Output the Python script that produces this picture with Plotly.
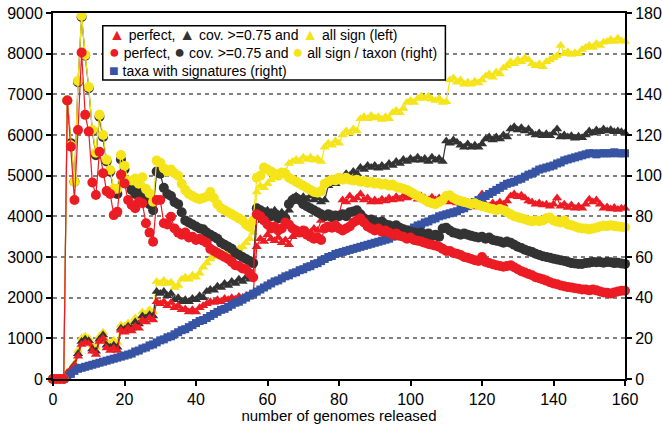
import plotly.graph_objects as go

# x: number of genomes released
genomes = list(range(0, 161))

# signature counts (left axis)
perfect_sign = [
    0, 0, 0, 0, 150, 220, 330, 560, 850, 900,
    870, 680, 600, 920, 1000, 760, 700, 760, 700, 1200,
    1150, 1250, 1180, 1300, 1250, 1450, 1400, 1500, 1450, 1900,
    1850, 1900, 1800, 1880, 1750, 1800, 1700, 1720, 1650, 1700,
    1650, 1750, 1800, 1850, 1900, 1880, 1950, 1900, 1980, 1950,
    2000, 1960, 2030, 2000, 2050, 2020, 2100, 3250, 3450, 3380,
    3550, 3450, 3400, 3480, 3350, 3420, 3300, 3500, 3550, 3600,
    3550, 3650, 3600, 3700, 3650, 3900, 4000, 3950, 4050, 3980,
    4050, 4400, 4350, 4500, 4400, 4450, 4550, 4400, 4450, 4350,
    4400, 4350, 4420, 4380, 4450, 4400, 4480, 4420, 4500, 4450,
    4520, 4480, 4420, 4500, 4450, 4400, 4470, 4400, 4450, 4380,
    4420, 4350, 4400, 4330, 4380, 4300, 4250, 4300, 4230, 4250,
    4550, 4300, 4250, 4330, 4280, 4350, 4300, 4380, 4500, 4550,
    4480, 4520, 4450, 4380, 4350, 4300, 4330, 4280, 4300, 4250,
    4300, 4450, 4250, 4300, 4220, 4280, 4200, 4250, 4200, 4300,
    4420, 4350, 4400, 4300, 4200, 4230, 4180, 4220, 4170, 4200, 4200,
]
cov75_sign = [
    0, 0, 0, 0, 150, 230, 350, 620, 920, 980,
    940, 740, 680, 980, 1080, 830, 780, 830, 780, 1250,
    1220, 1300, 1250, 1400, 1350, 1550, 1500, 1580, 1550, 2150,
    2100, 2150, 2050, 2100, 1950, 2000, 1900, 1950, 1900, 1980,
    1950, 2050, 2000, 2150, 2200, 2180, 2280, 2250, 2350, 2300,
    2400, 2350, 2450, 2400, 2500, 2450, 2550, 3900, 4100, 4050,
    4150, 4100, 4150, 4050, 4100, 4000, 4150, 4450, 4500, 4400,
    4480, 4420, 4500, 4400, 4450, 4350, 4400, 4750, 4850, 4800,
    4950, 4900, 5050, 5000, 5100, 5050, 5200, 5150, 5250, 5200,
    5250, 5180, 5250, 5200, 5300, 5250, 5350, 5300, 5400, 5350,
    5420, 5380, 5450, 5380, 5420, 5350, 5450, 5380, 5420, 5350,
    5850, 5800, 5880, 5820, 5750, 5700, 5780, 5700, 5750, 5700,
    5780, 5900, 5950, 5880, 5950, 5900, 6000, 5950, 6150, 6200,
    6120, 6180, 6100, 6150, 6050, 6000, 6050, 5980, 6030, 5980,
    6050, 6150, 5950, 6000, 5950, 5980, 5920, 5970, 5930, 6000,
    6100, 6050, 6120, 6080, 6150, 6100, 6130, 6080, 6100, 6080, 6050,
]
all_sign = [
    0, 0, 0, 0, 160, 250, 380, 700, 1000, 1050,
    1000, 830, 780, 1050, 1150, 920, 880, 950, 900, 1320,
    1300, 1380, 1350, 1500, 1450, 1650, 1600, 1700, 1650, 2400,
    2350, 2420, 2350, 2380, 2250, 2300, 2450, 2500, 2450, 2550,
    2500, 2600, 2750, 2850, 2950, 3050, 3000, 3100, 3050, 3150,
    3100, 3150, 3200, 3250, 3350, 3450, 3600, 4600, 4750, 4700,
    4800, 4900, 4950, 5050, 5000, 5100, 5300, 5350, 5400, 5350,
    5450, 5400, 5450, 5380, 5420, 5350, 5700, 5800, 5750, 5850,
    5800, 6000, 6100, 6050, 6150, 6100, 6400, 6450, 6400, 6480,
    6420, 6450, 6380, 6450, 6400, 6550, 6600, 6550, 6650, 6800,
    6850, 6800, 6900, 6950, 6900, 6950, 6880, 6850, 6900, 6800,
    6820, 7350, 7400, 7300, 7350, 7250, 7300, 7250, 7320, 7280,
    7350, 7450, 7500, 7420, 7550, 7500, 7650, 7700, 7800, 7750,
    7850, 7800, 7900, 7850, 7750, 7700, 7750, 7680, 7800, 7850,
    7900, 7950, 8200, 8000, 8050, 7980, 8020, 8000, 8100, 8150,
    8200, 8150, 8250, 8200, 8280, 8300, 8350, 8300, 8380, 8320, 8300,
]

# signatures per taxon and taxa count (right axis)
perfect_per_taxon = [
    0, 0, 0, 0, 137, 114.2, 88, 122.5, 160.6, 129.9,
    121.7, 96.6, 90.5, 111.8, 101.2, 92.4, 91, 80.6, 82.2, 100.4,
    96.2, 88, 85.6, 84, 87.2, 86.4, 76.6, 72, 67.5, 88,
    88, 76.6, 76, 79.8, 74, 72, 71, 72, 69.6, 70,
    68.4, 69, 68, 67, 64, 63, 62, 61, 60, 59,
    57.6, 56, 55.6, 54.4, 54, 52, 50, 81, 80, 78,
    76, 74, 75, 73, 74, 77, 76, 74, 73, 72,
    73, 71, 70, 69, 69.6, 68.4, 74, 75, 74.4, 75.6,
    74, 73, 74, 75, 77, 78, 79, 77, 75, 74,
    73, 74, 72.4, 73, 72, 71, 71.6, 70.4, 70, 69,
    69.6, 68.4, 68, 67.6, 67, 66.4, 66, 65.6, 65, 64,
    63, 63, 62, 61.6, 61, 60, 59.6, 59, 58.4, 58,
    60, 57.6, 57, 56.4, 56, 55.6, 55.2, 55.6, 56, 55,
    54, 53, 52.4, 51.6, 51, 50, 49.6, 49, 48.4, 47.6,
    47, 46.6, 46, 45.6, 45.2, 45, 44.6, 44.4, 44, 44,
    43.6, 44, 43.6, 43, 42.6, 42.4, 42, 42.6, 43, 43.4, 43.4,
]
cov75_per_taxon = [
    0, 0, 0, 0, 137, 116, 97, 146, 178, 159,
    143, 122, 110, 129, 119, 107, 102, 92, 91, 108,
    103, 96, 93, 91, 93, 91, 89, 86, 83, 102,
    101, 94, 91, 90, 87, 86, 82, 78, 77, 76,
    75, 74, 73.6, 72, 71, 70, 69, 67, 66, 65,
    64, 62, 61, 60, 59, 58, 57, 84, 83, 82,
    81, 80, 81, 79, 80, 79, 86, 88, 89, 88,
    86, 85, 84, 83, 82, 81, 80, 81, 79.6, 80.4,
    80, 81, 80, 82, 82.4, 83, 81, 79, 78, 78.4,
    77.6, 77, 77.4, 76, 75.6, 75, 75.6, 74.4, 73.6, 73,
    72.4, 72, 71.6, 72, 71, 71.6, 70.4, 71, 70, 74,
    74.4, 73, 72, 71.6, 71, 71.6, 71, 70.4, 70, 69.6,
    70, 69, 69.6, 68.4, 68, 67.6, 67, 67.6, 67, 66,
    65, 64.4, 63.6, 63, 62.4, 61.6, 61, 60.4, 60, 59.6,
    59.2, 58.8, 58.4, 58, 57.6, 57, 56.8, 56.6, 56.6, 57,
    57.2, 57.6, 57.4, 57.6, 57.2, 57.6, 57.4, 57, 57.2, 56.8, 56.6,
]
all_per_taxon = [
    0, 0, 0, 0, 137, 115, 97, 146.6, 178.7, 159.4,
    143.6, 122.5, 111.3, 129.9, 120, 107.8, 102.8, 93.4, 93.6, 110.2,
    104.8, 97.6, 97.6, 98.6, 96, 99.2, 93.4, 91.2, 87.2, 107.4,
    106.4, 103.6, 102, 103, 101.2, 100, 96, 93, 91, 90,
    89, 88.4, 89, 89.6, 92, 89, 86, 84, 83, 82,
    81, 80, 79, 78, 76, 74.8, 78, 99, 100, 104,
    103, 102, 101, 100, 101.6, 101, 99, 98, 97, 96,
    95, 94, 93, 92, 91.6, 92.4, 96, 97, 98, 97.6,
    99, 98, 99, 98, 97.6, 98, 97, 97.4, 96.4, 97,
    96, 96.4, 95.6, 96, 95, 95.6, 94.4, 94, 93.6, 93,
    92, 91, 90, 89, 88, 87, 86.4, 86, 87, 88,
    90, 90.4, 89, 88, 87.6, 87, 86.6, 86, 86.4, 85.6,
    85, 84.6, 84, 83.6, 83, 83.6, 83, 82, 81, 80,
    79.6, 79, 78.6, 78, 77.6, 78, 77.6, 78, 79, 79.4,
    78, 77.4, 77, 78, 76, 75.6, 75, 74.4, 74, 74,
    73.6, 74, 74.4, 75, 75.4, 75.2, 75.6, 75.2, 75, 74.8, 74.6,
]
taxa_with_sign = [
    0, 0, 0, 0, 1, 2.5, 4, 5, 5.5, 6,
    6.5, 7, 7.5, 8, 8.5, 9, 9.5, 10, 10.5, 11,
    11.5, 12, 12.5, 13.5, 14, 15, 15.5, 16.5, 17, 18,
    19, 19.5, 20.5, 21, 22, 23, 24, 24.5, 25.5, 26.5,
    27.5, 28.5, 29, 30, 31, 32, 33, 34, 34.5, 35.5,
    36.5, 37.5, 38, 39, 40, 41, 42, 43, 44, 45,
    46, 47, 48, 48.5, 49.5, 50.5, 51, 52, 52.5, 53.5,
    54, 55, 55.5, 56.5, 57, 58, 59, 60, 60.5, 61.5,
    62, 62.5, 63, 63.5, 64, 64.5, 65, 65.5, 66, 66.5,
    67, 67.5, 68, 68.5, 69, 70, 70.5, 71, 72, 72.5,
    73.5, 74.5, 75.5, 76, 77, 77.5, 78.5, 79, 80, 80.5,
    81, 81.5, 82, 82.5, 83.5, 84, 85, 86, 87, 88,
    89, 90, 91, 92, 93, 94, 95, 96, 96.5, 97,
    98, 98.5, 99.5, 100.5, 101, 102, 103, 103.5, 104, 104.5,
    105, 106, 106.5, 107.5, 108, 108.5, 109, 109.5, 110, 110.5,
    111, 111, 110.5, 111, 111, 111, 111, 111.5, 111, 111, 111,
]

left_ticks = list(range(0, 9001, 1000))
right_ticks = list(range(0, 181, 20))
x_ticks = list(range(0, 161, 20))

RED = "#EC1C24"
DARK = "#333333"
YELLOW = "#F5E41A"
BLUE = "#3753A3"
FONT = "Liberation Sans, Arial, sans-serif"

fig = go.Figure()


def add_series(values, color, symbol, size, axis):
    fig.add_trace(go.Scatter(
        x=genomes, y=values, yaxis=axis, mode="lines+markers",
        line=dict(color=color, width=1.2),
        marker=dict(symbol=symbol, size=size, color=color, line=dict(width=0)),
        cliponaxis=False, showlegend=False, hoverinfo="skip",
    ))


add_series(taxa_with_sign, BLUE, "square", 8, "y2")
add_series(cov75_per_taxon, DARK, "circle", 10, "y2")
add_series(all_per_taxon, YELLOW, "circle", 10, "y2")
add_series(perfect_per_taxon, RED, "circle", 10, "y2")
add_series(all_sign, YELLOW, "triangle-up", 9, "y")
add_series(cov75_sign, DARK, "triangle-up", 9, "y")
add_series(perfect_sign, RED, "triangle-up", 9, "y")

axis_common = dict(
    ticks="outside", ticklen=5, tickwidth=1.5, tickcolor="black",
    showline=True, linecolor="black", linewidth=2, zeroline=False,
    automargin=False,
    tickfont=dict(family=FONT, size=16, color="black"),
)

fig.update_layout(
    width=662, height=424,
    margin=dict(l=53, r=37, t=13, b=45),
    paper_bgcolor="white", plot_bgcolor="white",
    font=dict(family=FONT, size=15, color="black"),
    xaxis=dict(
        range=[0, 160], tickvals=x_ticks, mirror=True, showgrid=False,
        title=dict(text="number of genomes released", font=dict(family=FONT, size=15), standoff=2),
        **axis_common,
    ),
    yaxis=dict(
        range=[0, 9000], tickvals=left_ticks, tickformat="d",
        showgrid=True, gridcolor="#7F7F7F", gridwidth=1.5, griddash="4px,4px",
        **axis_common,
    ),
    yaxis2=dict(
        range=[0, 180], tickvals=right_ticks, overlaying="y", side="right",
        showgrid=False, **axis_common,
    ),
)

# key box
fig.add_shape(type="rect", xref="paper", yref="paper",
              x0=0.087, x1=0.686, y0=0.817, y1=0.965,
              line=dict(color="black", width=1.5), fillcolor="white", layer="above")


def glyph(color, char, size=16):
    return f'<span style="color:{color};font-size:{size}px">{char}</span>'


key_lines = [
    f'{glyph(RED, "▲")} perfect, {glyph(DARK, "▲")} cov. &gt;=0.75 and {glyph(YELLOW, "▲")} all sign (left)',
    f'{glyph(RED, "●", 18)} perfect, {glyph(DARK, "●", 18)} cov. &gt;=0.75 and {glyph(YELLOW, "●", 18)} all sign / taxon (right)',
    f'{glyph(BLUE, "■")} taxa with signatures (right)',
]
fig.add_annotation(xref="paper", yref="paper", x=0.094, y=0.891,
                   text="<br>".join(key_lines), align="left",
                   showarrow=False, xanchor="left", yanchor="middle",
                   font=dict(family=FONT, size=14, color="black"))

fig.write_html("out.html")
